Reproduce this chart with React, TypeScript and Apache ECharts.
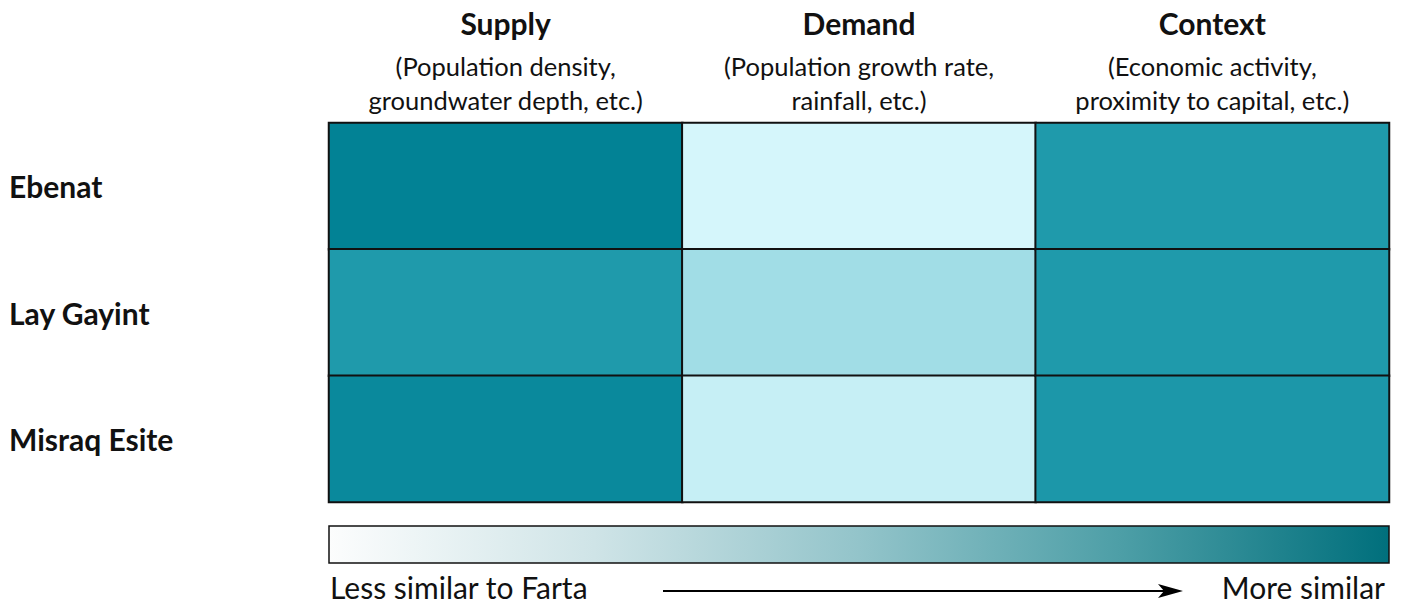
import React, { useEffect, useRef } from 'react';
import * as echarts from 'echarts';

const columns = ['Supply', 'Demand', 'Context'];
const columnNotes = [
  ['(Population density,', 'groundwater depth, etc.)'],
  ['(Population growth rate,', 'rainfall, etc.)'],
  ['(Economic activity,', 'proximity to capital, etc.)'],
];
const districts = ['Ebenat', 'Lay Gayint', 'Misraq Esite'];
const supplyScores = [0.98, 0.67, 0.89];
const demandScores = [0.02, 0.33, 0.11];
const contextScores = [0.67, 0.67, 0.7];
const cellColors = ['#d8f8fc', '#a0dde6', '#1f9aab', '#008094'];
const legendLeftText = 'Less similar to Farta';
const legendRightText = 'More similar';

const FONT = 'Lato';

export default function App() {
  const ref = useRef<HTMLDivElement>(null);
  useEffect(() => {
    document.body.style.margin = '0';
    if (!ref.current) return;
    const chart = echarts.init(ref.current, null, { renderer: 'svg' });
    const scoreCols = [supplyScores, demandScores, contextScores];
    const data: number[][] = [];
    scoreCols.forEach((col, ci) => col.forEach((v, ri) => data.push([ci, ri, v])));

    const gx = 329, gy = 123, gw = 1060, gh = 379;
    chart.setOption({
      animation: false,
      textStyle: { fontFamily: FONT },
      grid: { left: gx, top: gy, width: gw, height: gh },
      xAxis: {
        type: 'category',
        position: 'top',
        data: columns,
        axisLine: { show: false },
        axisTick: { show: false },
        splitLine: { show: false },
        axisLabel: {
          margin: 6,
          interval: 0,
          formatter: (val: string, idx: number) =>
            `{b|${val}}\n{s|${columnNotes[idx][0]}}\n{s|${columnNotes[idx][1]}}`,
          rich: {
            b: { fontFamily: FONT, fontWeight: 'bold', fontSize: 30, lineHeight: 52, color: '#111', align: 'center' },
            s: { fontFamily: FONT, fontSize: 25.5, lineHeight: 34, color: '#111', align: 'center' },
          },
        },
      },
      yAxis: {
        type: 'category',
        inverse: true,
        data: districts,
        axisLine: { show: false },
        axisTick: { show: false },
        splitLine: { show: false },
        axisLabel: {
          align: 'left',
          margin: 320,
          fontFamily: FONT,
          fontWeight: 'bold',
          fontSize: 30,
          color: '#111',
        },
      },
      visualMap: {
        show: false,
        min: 0,
        max: 1,
        dimension: 2,
        inRange: { color: cellColors },
      },
      series: [
        {
          type: 'heatmap',
          data,
          itemStyle: { borderColor: '#111', borderWidth: 2 },
          emphasis: { disabled: true },
        },
      ],
      graphic: [
        {
          type: 'rect',
          shape: { x: gx, y: 526, width: gw, height: 37 },
          style: {
            fill: new echarts.graphic.LinearGradient(0, 0, 1, 0, [
              { offset: 0, color: '#fcfdfd' },
              { offset: 0.25, color: '#cfe4e7' },
              { offset: 0.5, color: '#93c4ca' },
              { offset: 0.75, color: '#4c9ea6' },
              { offset: 1, color: '#006f7c' },
            ]),
            stroke: '#111',
            lineWidth: 1.5,
          },
        },
        {
          type: 'text',
          x: 330,
          y: 587,
          style: { text: legendLeftText, fontFamily: FONT, fontSize: 30, fill: '#111', verticalAlign: 'middle', align: 'left' },
        },
        {
          type: 'text',
          x: 1385,
          y: 587,
          style: { text: legendRightText, fontFamily: FONT, fontSize: 30, fill: '#111', verticalAlign: 'middle', align: 'right' },
        },
        {
          type: 'line',
          shape: { x1: 663, y1: 591, x2: 1165, y2: 591 },
          style: { stroke: '#000', lineWidth: 2 },
        },
        {
          type: 'polygon',
          shape: { points: [[1158, 584], [1183, 591], [1158, 598], [1164, 591]] },
          style: { fill: '#000' },
        },
      ],
    });
    return () => chart.dispose();
  }, []);
  return <div ref={ref} style={{ position: 'absolute', left: 0, top: 0, width: 1402, height: 606 }} />;
}
